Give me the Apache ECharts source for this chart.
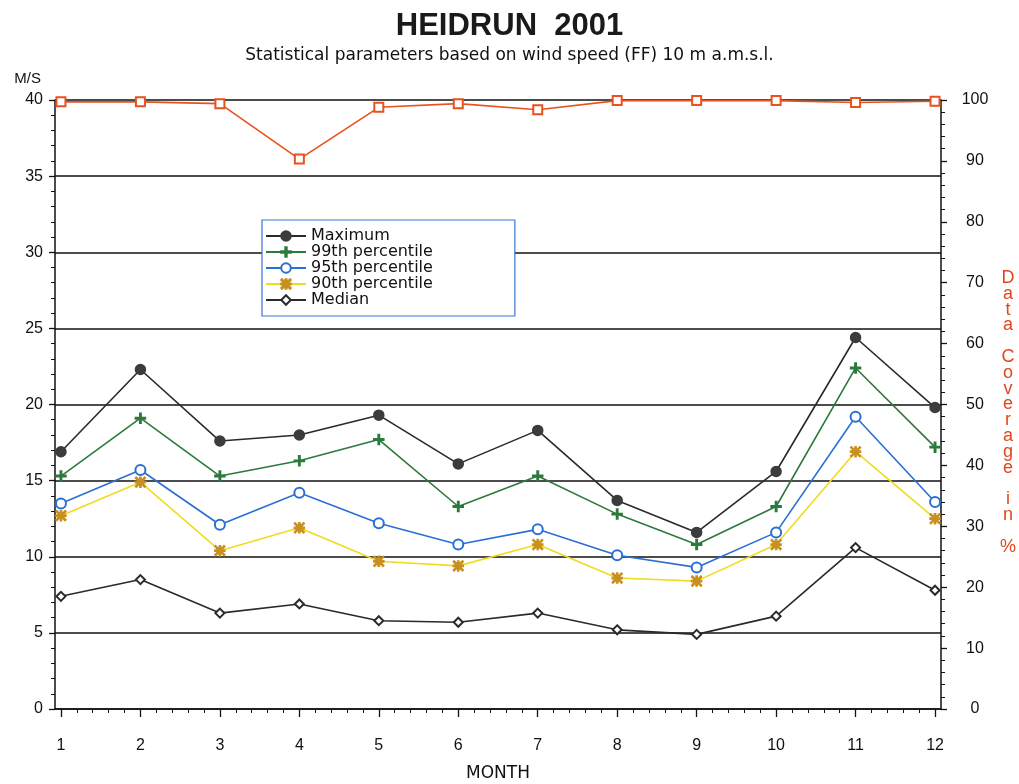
<!DOCTYPE html>
<html>
<head>
<meta charset="utf-8">
<title>HEIDRUN 2001</title>
<script src="https://cdn.jsdelivr.net/npm/echarts@6/dist/echarts.min.js"></script>
<style>
  html, body { margin: 0; padding: 0; background: #fff; }
  #chart { width: 1019px; height: 784px; }
</style>
</head>
<body>
<div id="chart"></div>
<script>
// months on the x axis
const months = [1, 2, 3, 4, 5, 6, 7, 8, 9, 10, 11, 12]

// wind speed statistics, m/s
const maximum = [16.9, 22.3, 17.6, 18.0, 19.3, 16.1, 18.3, 13.7, 11.6, 15.6, 24.4, 19.8]
const p99 = [15.3, 19.1, 15.3, 16.3, 17.7, 13.3, 15.3, 12.8, 10.8, 13.3, 22.4, 17.2]
const p95 = [13.5, 15.7, 12.1, 14.2, 12.2, 10.8, 11.8, 10.1, 9.3, 11.6, 19.2, 13.6]
const p90 = [12.7, 14.9, 10.4, 11.9, 9.7, 9.4, 10.8, 8.6, 8.4, 10.8, 16.9, 12.5]
const median = [7.4, 8.5, 6.3, 6.9, 5.8, 5.7, 6.3, 5.2, 4.9, 6.1, 10.6, 7.8]

// data coverage, %
const coverage = [99.7, 99.7, 99.4, 90.3, 98.8, 99.4, 98.4, 99.9, 99.9, 99.9, 99.6, 99.8]

// minor tick positions between months
const minorMonthTicks = []
for (let m = 1; m < 12; m++) {
  for (let k = 1; k < 5; k++) minorMonthTicks.push(m + k / 5)
}

const PLUS = 'path://M4.3,0h1.4v10h-1.4zM0,4.3h10v1.4h-10z'
const STAR = 'path://M4.4,0h1.2v10h-1.2zM0,4.4h10v1.2h-10zM0.8,0L10,9.2L9.2,10L0,0.8zM9.2,0L10,0.8L0.8,10L0,9.2z'

const pairs = arr => months.map((m, i) => [m, arr[i]])

function lineSeries(name, data, color, symbol, size, symbolColor, yAxisIndex) {
  return {
    name: name,
    type: 'line',
    yAxisIndex: yAxisIndex || 0,
    data: pairs(data),
    symbol: symbol,
    symbolSize: size,
    showAllSymbol: true,
    lineStyle: { color: color, width: 1.6 },
    itemStyle: { color: symbolColor || color, borderColor: symbolColor || color, borderWidth: 1.5 },
    emphasis: { disabled: true },
    z: 3
  }
}

const chart = echarts.init(document.getElementById('chart'))
const axisBlack = { lineStyle: { color: '#111', width: 1.5 } }

chart.setOption({
  backgroundColor: '#fff',
  animation: false,
  title: [
    {
      text: 'HEIDRUN  2001',
      left: 'center',
      top: 6,
      textStyle: { fontFamily: 'Liberation Sans', fontSize: 31, fontWeight: 'bold', color: '#1a1a1a' }
    },
    {
      text: 'Statistical parameters based on wind speed (FF) 10 m a.m.s.l.',
      left: 'center',
      top: 42,
      textStyle: { fontFamily: 'DejaVu Sans', fontSize: 17, fontWeight: 'normal', color: '#111' }
    }
  ],
  legend: {
    data: ['Maximum', '99th percentile', '95th percentile', '90th percentile', 'Median'],
    orient: 'vertical',
    left: 262,
    top: 220,
    padding: [8, 82, 8, 3],
    itemWidth: 40,
    itemHeight: 12,
    itemGap: 0,
    backgroundColor: '#fff',
    borderColor: '#3d74d2',
    borderWidth: 1.2,
    textStyle: { fontFamily: 'DejaVu Sans', fontSize: 16, color: '#111' },
    z: 10
  },
  grid: { left: 55, right: 78, top: 100, bottom: 75, outerBoundsMode: 'none' },
  xAxis: [
    {
      type: 'value',
      min: 0.925,
      max: 12.075,
      position: 'bottom',
      offset: 8,
      name: 'MONTH',
      nameLocation: 'middle',
      nameGap: 48,
      nameTextStyle: { fontFamily: 'DejaVu Sans', fontSize: 17, color: '#111' },
      axisLine: axisBlack,
      axisTick: { customValues: months, length: 8, lineStyle: { color: '#111', width: 1.3 } },
      axisLabel: { customValues: months, margin: 21, fontFamily: 'Liberation Sans', fontSize: 16, color: '#111' },
      splitLine: { show: false }
    },
    {
      type: 'value',
      min: 0.925,
      max: 12.075,
      position: 'bottom',
      offset: 8,
      axisLine: { show: false },
      axisTick: { customValues: minorMonthTicks, length: 4, lineStyle: { color: '#111', width: 1 } },
      axisLabel: { show: false },
      splitLine: { show: false }
    }
  ],
  yAxis: [
    {
      type: 'value',
      position: 'left',
      min: 0,
      max: 40,
      interval: 5,
      name: 'M/S',
      nameLocation: 'end',
      nameGap: 14,
      nameTextStyle: { fontFamily: 'Liberation Sans', fontSize: 15, color: '#111', align: 'right', padding: [0, 14, 0, 0] },
      axisLine: { show: true, lineStyle: { color: '#111', width: 1.5 } },
      axisTick: { show: true, length: 6, lineStyle: { color: '#111', width: 1.3 } },
      minorTick: { show: true, splitNumber: 5, length: 4, lineStyle: { color: '#111', width: 1 } },
      axisLabel: { margin: 12, fontFamily: 'Liberation Sans', fontSize: 16, color: '#111' },
      splitLine: { show: true, lineStyle: { color: '#111', width: 1.5 } }
    },
    {
      type: 'value',
      position: 'right',
      min: 0,
      max: 100,
      interval: 10,
      name: '\nD\na\nt\na\n\nC\no\nv\ne\nr\na\ng\ne\n\ni\nn\n\n%',
      nameLocation: 'middle',
      nameRotate: 0,
      nameGap: 67,
      nameTextStyle: { fontFamily: 'Liberation Sans', fontSize: 18, color: '#e2461c', lineHeight: 15.8, align: 'center' },
      axisLine: { show: true, lineStyle: { color: '#111', width: 1.5 } },
      axisTick: { show: true, length: 6, lineStyle: { color: '#111', width: 1.3 } },
      minorTick: { show: true, splitNumber: 5, length: 4, lineStyle: { color: '#111', width: 1 } },
      axisLabel: { margin: 34, align: 'center', fontFamily: 'Liberation Sans', fontSize: 16, color: '#111' },
      splitLine: { show: false }
    }
  ],
  series: [
    lineSeries('Maximum', maximum, '#2a2a2a', 'circle', 10, '#3c3c3c'),
    lineSeries('99th percentile', p99, '#2b7a3c', PLUS, 10),
    lineSeries('95th percentile', p95, '#2a6fd4', 'emptyCircle', 10),
    lineSeries('90th percentile', p90, '#f0dc1e', STAR, 10, '#c8901e'),
    lineSeries('Median', median, '#2a2a2a', 'emptyDiamond', 9),
    lineSeries('Data Coverage', coverage, '#e8521e', 'emptyRect', 9, null, 1)
  ]
})
</script>
</body>
</html>
